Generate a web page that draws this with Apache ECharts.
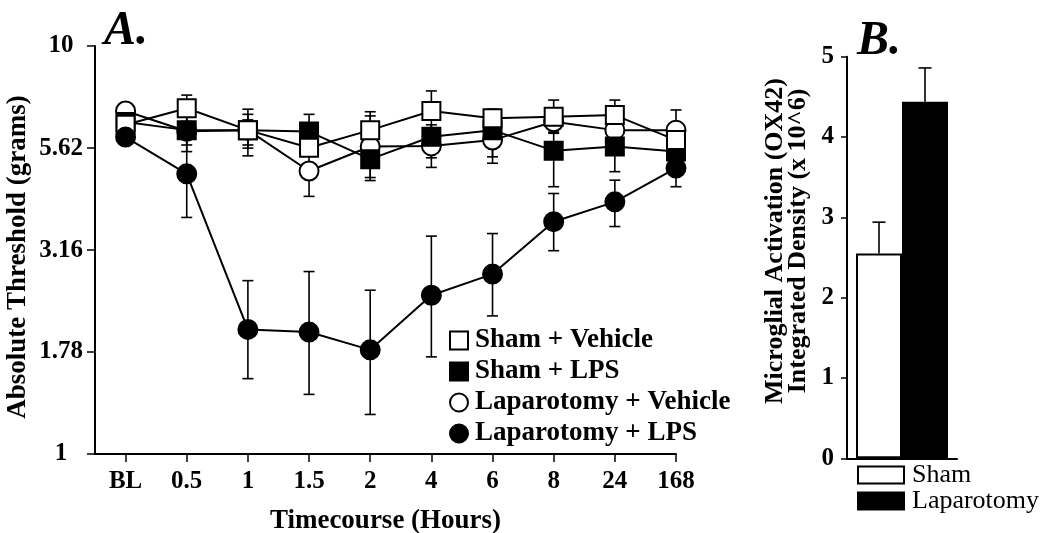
<!DOCTYPE html>
<html><head><meta charset="utf-8">
<script src="https://cdn.jsdelivr.net/npm/echarts@6/dist/echarts.min.js"></script>
<style>html,body{margin:0;padding:0;background:#fff}#c{width:1050px;height:533px}</style>
</head><body><div id="c"></div>
<script>
// ---- Panel A data ----
const timeLabels = ['BL', '0.5', '1', '1.5', '2', '4', '6', '8', '24', '168'];
const yTickValues = [1, 1.78, 3.16, 5.62, 10];

const shamVehicle   = [6.41, 7.04, 6.22, 5.63, 6.22, 6.93, 6.65, 6.71, 6.77, 5.88];
const shamVehicleHi = [6.80, 7.58, 7.00, 5.89, 6.90, 7.76, 7.00, 7.37, 7.37, 5.98];
const shamVehicleLo = [6.05, 6.53, 5.62, 5.39, 5.62, 6.19, 6.32, 6.11, 6.22, 5.78];

const shamLPS   = [6.51, 6.22, 6.22, 6.17, 5.28, 5.99, 6.22, 5.54, 5.67, 5.51];
const shamLPSHi = [6.85, 6.77, 6.80, 6.80, 5.97, 6.41, 6.75, 6.78, 6.52, 5.90];
const shamLPSLo = [6.20, 5.72, 5.72, 5.59, 4.68, 5.32, 5.35, 4.52, 4.92, 5.15];

const lapVehicle   = [6.93, 6.18, 6.22, 4.94, 5.67, 5.69, 5.88, 6.52, 6.22, 6.22];
const lapVehicleHi = [7.10, 6.96, 6.59, 5.70, 6.74, 6.20, 6.70, 6.90, 6.60, 6.97];
const lapVehicleLo = [6.75, 5.51, 5.38, 4.28, 4.76, 5.04, 5.16, 6.15, 5.85, 5.55];

const lapLPS   = [5.98, 4.86, 2.02, 1.99, 1.80, 2.45, 2.76, 3.71, 4.15, 5.02];
const lapLPSHi = [6.25, 5.92, 2.66, 2.80, 2.52, 3.42, 3.47, 4.35, 4.69, 5.56];
const lapLPSLo = [5.72, 3.80, 1.53, 1.40, 1.25, 1.73, 2.18, 3.15, 3.61, 4.52];

// ---- Panel B data ----
const groupNames = ['Sham', 'Laparotomy'];
const barValues = [2.55, 4.44];
const barErrors = [0.39, 0.42];

const FONT = '"Liberation Serif", "Times New Roman", serif';
const BAR_W = 46;

function pts(arr) { return arr.map((v, i) => [i, v]); }
function errData(lo, hi) { return hi.map((h, i) => [i, lo[i], h]); }

function renderErrA(params, api) {
  const x = api.value(0);
  const a = api.coord([x, api.value(1)]);
  const b = api.coord([x, api.value(2)]);
  const c = 5.5, st = { stroke: '#000', lineWidth: 1.6 };
  return { type: 'group', children: [
    { type: 'line', shape: { x1: a[0], y1: a[1], x2: b[0], y2: b[1] }, style: st },
    { type: 'line', shape: { x1: a[0] - c, y1: a[1], x2: a[0] + c, y2: a[1] }, style: st },
    { type: 'line', shape: { x1: b[0] - c, y1: b[1], x2: b[0] + c, y2: b[1] }, style: st }
  ]};
}

function errSeriesA(lo, hi) {
  return { type: 'custom', xAxisIndex: 0, yAxisIndex: 0, renderItem: renderErrA,
    data: errData(lo, hi), encode: { x: 0, y: [1, 2] }, z: 1, silent: true };
}

function lineSeries(name, data, symbol, size, fill) {
  return { name, type: 'line', xAxisIndex: 0, yAxisIndex: 0, data: pts(data),
    symbol, symbolSize: size, showSymbol: true, z: 3,
    lineStyle: { color: '#000', width: 2 },
    itemStyle: { color: fill, borderColor: '#000', borderWidth: 2, opacity: 1 },
    emphasis: { disabled: true }, animation: false };
}

function renderErrB(params, api) {
  const idx = api.value(0);
  const v = api.value(1), e = api.value(2);
  const base = api.coord([0, v]);
  const top = api.coord([0, v + e]);
  const xc = base[0] + (idx === 0 ? -BAR_W / 2 : BAR_W / 2);
  const c = 6.5, st = { stroke: '#000', lineWidth: 1.6 };
  return { type: 'group', children: [
    { type: 'line', shape: { x1: xc, y1: base[1], x2: xc, y2: top[1] }, style: st },
    { type: 'line', shape: { x1: xc - c, y1: top[1], x2: xc + c, y2: top[1] }, style: st }
  ]};
}

const chart = echarts.init(document.getElementById('c'), null, { renderer: 'canvas' });
const boldText = { fontFamily: FONT, fontWeight: 'bold', color: '#000' };

chart.setOption({
  backgroundColor: '#fff',
  animation: false,
  title: [
    { text: 'A.', left: 99, top: 3, textStyle: { fontFamily: FONT, fontStyle: 'italic', fontWeight: 'bold', fontSize: 48, color: '#000' } },
    { text: 'B.', left: 852, top: 13, textStyle: { fontFamily: FONT, fontStyle: 'italic', fontWeight: 'bold', fontSize: 48, color: '#000' } }
  ],
  grid: [
    { left: 95, top: 46, width: 581, height: 408, containLabel: false, outerBoundsMode: 'none' },
    { left: 847, top: 56.7, width: 110, height: 401.6, containLabel: false, outerBoundsMode: 'none' }
  ],
  legend: [
    { data: [
        { name: 'Sham + Vehicle', icon: 'rect' },
        { name: 'Sham + LPS', icon: 'rect' },
        { name: 'Laparotomy + Vehicle', icon: 'circle' },
        { name: 'Laparotomy + LPS', icon: 'circle' }
      ],
      orient: 'vertical', left: 444, top: 322, itemWidth: 18, itemHeight: 18, itemGap: 4,
      selectedMode: false, textStyle: Object.assign({ fontSize: 27, lineHeight: 27, padding: [0, 0, 0, 2] }, boldText) },
    { data: [{ name: 'Sham', icon: 'rect' }, { name: 'Laparotomy', icon: 'rect' }],
      orient: 'vertical', left: 852, top: 457, itemWidth: 46, itemHeight: 17, itemGap: 0,
      selectedMode: false, textStyle: { fontFamily: FONT, fontSize: 26, lineHeight: 22, color: '#000', padding: [0, 0, 0, 3] } }
  ],
  xAxis: [
    { type: 'value', gridIndex: 0, min: -0.5, max: 9,
      axisLine: { show: true, onZero: false, lineStyle: { color: '#000', width: 2 } },
      axisTick: { show: true, customValues: timeLabels.map((t, i) => i), length: 8, lineStyle: { color: '#000', width: 1.5 } },
      axisLabel: { customValues: timeLabels.map((t, i) => i), margin: 15, fontSize: 25, ...boldText,
        formatter: v => timeLabels[Math.round(v)] },
      splitLine: { show: false },
      name: 'Timecourse (Hours)', nameLocation: 'middle', nameGap: 54,
      nameTextStyle: Object.assign({ fontSize: 27 }, boldText) },
    { type: 'category', gridIndex: 1, data: [''],
      axisLine: { show: true, lineStyle: { color: '#000', width: 2 } },
      axisTick: { show: false }, axisLabel: { show: false } }
  ],
  yAxis: [
    { type: 'log', logBase: 10, gridIndex: 0, min: 1, max: 10,
      axisLine: { show: true, onZero: false, lineStyle: { color: '#000', width: 2 } },
      axisTick: { show: true, customValues: yTickValues, length: 8, lineStyle: { color: '#000', width: 1.5 } },
      axisLabel: { customValues: yTickValues, margin: 34, align: 'center', fontSize: 25, ...boldText,
        formatter: v => {
          let best = 0;
          yTickValues.forEach((t, i) => { if (Math.abs(t - v) < Math.abs(yTickValues[best] - v)) best = i; });
          return String(yTickValues[best]);
        } },
      splitLine: { show: false },
      name: 'Absolute Threshold (grams)', nameLocation: 'middle', nameGap: 63, nameMoveOverlap: false,
      nameTextStyle: Object.assign({ fontSize: 27, padding: [0, 14, 0, 0] }, boldText) },
    { type: 'value', gridIndex: 1, min: 0, max: 5, interval: 1,
      axisLine: { show: true, lineStyle: { color: '#000', width: 2 } },
      axisTick: { show: true, length: 6, lineStyle: { color: '#000', width: 1.5 } },
      axisLabel: { margin: 13, fontSize: 25, ...boldText },
      splitLine: { show: false },
      name: 'Microglial Activation (OX42)\nIntegrated Density (x 10^6)', nameLocation: 'middle', nameGap: 37,
      nameTextStyle: Object.assign({ fontSize: 26, lineHeight: 23, padding: [0, 0, 0, 33] }, boldText) }
  ],
  series: [
    errSeriesA(lapVehicleLo, lapVehicleHi),
    errSeriesA(shamLPSLo, shamLPSHi),
    errSeriesA(shamVehicleLo, shamVehicleHi),
    errSeriesA(lapLPSLo, lapLPSHi),
    lineSeries('Laparotomy + Vehicle', lapVehicle, 'circle', 19, '#fff'),
    lineSeries('Sham + LPS', shamLPS, 'rect', 18, '#000'),
    lineSeries('Sham + Vehicle', shamVehicle, 'rect', 18, '#fff'),
    lineSeries('Laparotomy + LPS', lapLPS, 'circle', 19, '#000'),
    { name: groupNames[0], type: 'bar', xAxisIndex: 1, yAxisIndex: 1, data: [barValues[0]],
      barWidth: BAR_W, barGap: '0%', z: 2,
      itemStyle: { color: '#fff', borderColor: '#000', borderWidth: 2 } },
    { name: groupNames[1], type: 'bar', xAxisIndex: 1, yAxisIndex: 1, data: [barValues[1]],
      barWidth: BAR_W, barGap: '0%', z: 2,
      itemStyle: { color: '#000', borderColor: '#000', borderWidth: 2 } },
    { type: 'custom', xAxisIndex: 1, yAxisIndex: 1, z: 1, silent: true,
      renderItem: renderErrB,
      data: barValues.map((v, i) => [i, v, barErrors[i]]),
      encode: { x: -1, y: [1] } }
  ]
});
</script>
</body></html>
